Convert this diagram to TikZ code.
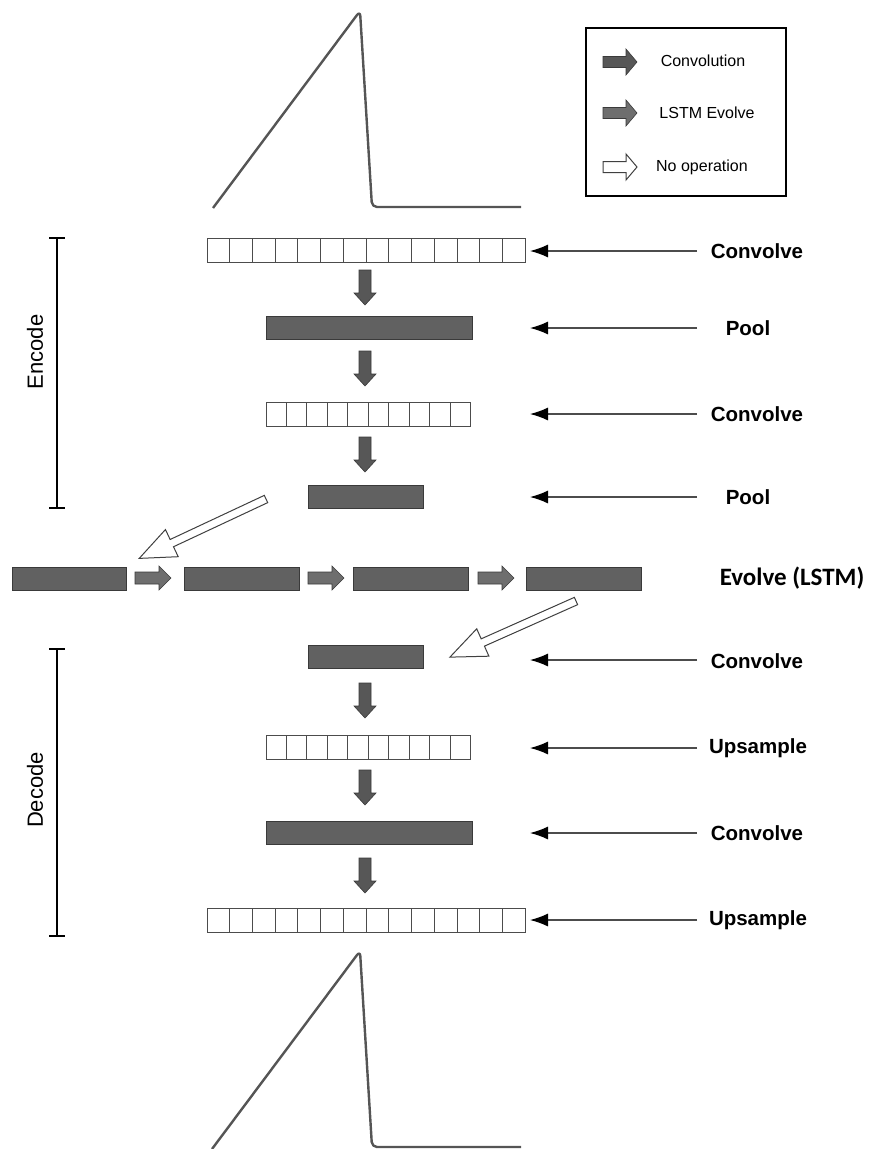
\documentclass[tikz,border=0pt]{standalone}
\usepackage{fontspec}
\setmainfont{Liberation Sans}
\newfontfamily\calib{Carlito}
\usetikzlibrary{arrows.meta,calc}
\definecolor{barfill}{HTML}{616161}
\definecolor{bardraw}{HTML}{3A3A3A}
\definecolor{arrfill}{HTML}{575757}
\definecolor{lstmfill}{HTML}{6E6E6E}
\definecolor{wave}{HTML}{555555}
\tikzset{
  pics/barrow/.style n args={4}{code={%
    \path[pic actions] (0,-#2) -- ({#1-#4},-#2) -- ({#1-#4},-#3) -- (#1,0) -- ({#1-#4},#3) -- ({#1-#4},#2) -- (0,#2) -- cycle;
  }},
  convarr/.style={fill=arrfill,draw=bardraw,line width=0.6pt},
  lstmarr/.style={fill=lstmfill,draw=bardraw,line width=0.6pt},
  noparr/.style={fill=white,draw=black!75,line width=1pt},
  bar/.style={draw=bardraw,fill=barfill,line width=0.8pt,minimum height=23pt,inner sep=0pt},
  strip/.style={draw=black!70,fill=white,line width=0.8pt,minimum height=24pt,inner sep=0pt},
  ptr/.style={draw=black!70,line width=1.2pt,-{Latex[length=18pt,width=13pt,black]}},
  lab/.style={font=\bfseries\fontsize{20.5}{24}\selectfont,anchor=center},
  legtxt/.style={font=\fontsize{16}{19}\selectfont,anchor=center},
  side/.style={font=\fontsize{22}{26}\selectfont,rotate=90},
  brk/.style={draw=black,line width=1.6pt},
  wav/.style={draw=wave,line width=2.4pt,rounded corners=5pt,line join=round},
}
\newcommand{\cells}[2]{% node name, number of cells
  \foreach \k in {1,...,\numexpr#2-1\relax}{
    \draw[black!70,line width=0.8pt] ($(#1.south west)!{\k/#2}!(#1.south east)$) -- ($(#1.north west)!{\k/#2}!(#1.north east)$);
  }}
\begin{document}
\begin{tikzpicture}[x=1pt,y=-1pt]
\useasboundingbox (0,0) rectangle (871,1149);

% top waveform
\draw[wav] (213,208) -- (360,11) -- (372,207) -- (521,207);

% legend
\node[draw=black,line width=2pt,minimum width=200pt,minimum height=168pt,anchor=north west,inner sep=0pt] (legend) at (585,27) {};
\pic[convarr] at (603,62) {barrow={34}{5.5}{13}{11}};
\node[legtxt] (lg1) at (703,61) {Convolution};
\pic[lstmarr] at (603,113) {barrow={34}{5.5}{13}{11}};
\node[legtxt] (lg2) at (707,113) {LSTM Evolve};
\pic[noparr] at (603,167) {barrow={34}{5.5}{13}{11}};
\node[legtxt] (lg3) at (702,167) {No operation};

% Encode layers
\node[strip,minimum width=318pt] (e1) at (366,250) {};
\cells{e1}{14}
\node[bar,minimum width=206pt] (e2) at (369,327.5) {};
\node[strip,minimum width=204pt] (e3) at (368,414) {};
\cells{e3}{10}
\node[bar,minimum width=115pt] (e4) at (365.5,496.5) {};

\pic[convarr,rotate=-90] at (365,270) {barrow={35}{6}{11}{12}};
\pic[convarr,rotate=-90] at (365,351) {barrow={35}{6}{11}{12}};
\pic[convarr,rotate=-90] at (365,437) {barrow={35}{6}{11}{12}};

% LSTM row
\node[bar,minimum width=114pt] (l1) at (69,578.5) {};
\node[bar,minimum width=115pt] (l2) at (241.5,578.5) {};
\node[bar,minimum width=115pt] (l3) at (410.5,578.5) {};
\node[bar,minimum width=115pt] (l4) at (583.5,578.5) {};
\pic[lstmarr] at (135,578) {barrow={36}{6}{12}{12}};
\pic[lstmarr] at (308,578) {barrow={36}{6}{12}{12}};
\pic[lstmarr] at (478,578) {barrow={36}{6}{12}{12}};

% no-op arrows
\pic[noparr,rotate=205.1] at (266,499) {barrow={140}{4}{15}{36}};
\pic[noparr,rotate=204.0] at (576,601) {barrow={138}{4}{15}{36}};

% Decode layers
\node[bar,minimum width=115pt] (d1) at (365.5,656.5) {};
\node[strip,minimum width=204pt] (d2) at (368,747.5) {};
\cells{d2}{10}
\node[bar,minimum width=206pt] (d3) at (369,833) {};
\node[strip,minimum width=318pt] (d4) at (366,920) {};
\cells{d4}{14}

\pic[convarr,rotate=-90] at (365,683) {barrow={35}{6}{11}{12}};
\pic[convarr,rotate=-90] at (365,770) {barrow={35}{6}{11}{12}};
\pic[convarr,rotate=-90] at (365,858) {barrow={35}{6}{11}{12}};

% bottom waveform
\draw[wav] (212,1149) -- (360,951) -- (372,1147) -- (521,1147);

% labels and pointers
\node[lab] (t1) at (757,251) {Convolve};
\node[lab] (t2) at (748,328) {Pool};
\node[lab] (t3) at (757,414) {Convolve};
\node[lab] (t4) at (748,497) {Pool};
\node[font=\calib\bfseries\fontsize{25}{29}\selectfont] (t5) at (792,578) {Evolve (LSTM)};
\node[lab] (t6) at (757,661) {Convolve};
\node[lab] (t7) at (758,748) {Upsample};
\node[lab] (t8) at (757,833) {Convolve};
\node[lab] (t9) at (758,920) {Upsample};

\foreach \n/\y in {1/251,2/328,3/414,4/497,6/660,7/748,8/833,9/920}{
  \coordinate (p\n) at (697,\y);
  \coordinate (q\n) at (530,\y);
  \draw[ptr] (p\n) -- (q\n);
}

% brackets
\coordinate (eb1) at (57,238); \coordinate (eb2) at (57,508);
\draw[brk] (eb1) -- (eb2);
\draw[brk] ($(eb1)+(-8,0)$) -- ($(eb1)+(8,0)$);
\draw[brk] ($(eb2)+(-8,0)$) -- ($(eb2)+(8,0)$);
\node[side] (enc) at (35,352) {Encode};

\coordinate (db1) at (57,649); \coordinate (db2) at (57,936);
\draw[brk] (db1) -- (db2);
\draw[brk] ($(db1)+(-8,0)$) -- ($(db1)+(8,0)$);
\draw[brk] ($(db2)+(-8,0)$) -- ($(db2)+(8,0)$);
\node[side] (dec) at (35,790) {Decode};
\end{tikzpicture}
\end{document}
